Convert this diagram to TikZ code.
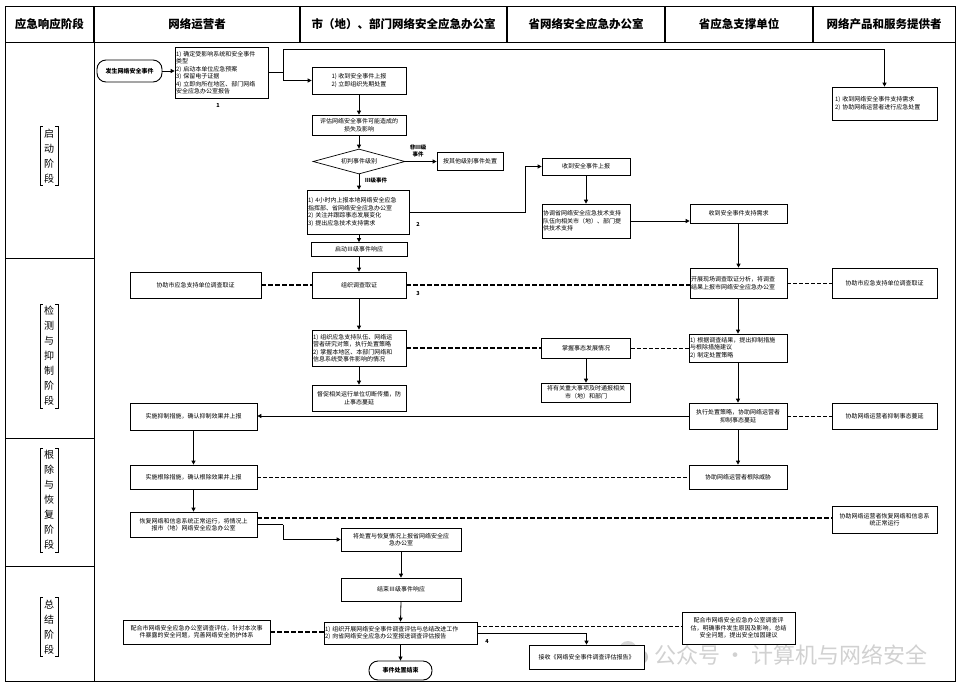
\documentclass[tikz,border=0pt]{standalone}
\usepackage{fontspec}
\setmainfont{Noto Sans CJK SC}
\usetikzlibrary{arrows.meta,shapes.geometric,calc}
\begin{document}
\begin{tikzpicture}[x=1pt,y=-1pt,
 box/.style={draw, line width=0.7pt, inner sep=1pt, font=\fontsize{6}{7.5}\selectfont, align=center},
 lbox/.style={box, align=left},
 stad/.style={draw, line width=0.9pt, rounded corners=9pt, inner sep=1pt, font=\fontsize{6}{7}\selectfont\bfseries},
 dia/.style={draw, line width=0.7pt, diamond, aspect=3.68, inner sep=0pt, font=\fontsize{6}{7}\selectfont},
 arr/.style={line width=0.8pt, -{Triangle[length=4pt,width=4pt]}},
 ln/.style={line width=0.8pt},
 tdash/.style={line width=1.3pt, dash pattern=on 5pt off 2pt},
 ndash/.style={line width=0.6pt, dash pattern=on 4pt off 2pt},
 hdr/.style={font=\fontsize{11.5}{13}\selectfont\bfseries},
 ph/.style={font=\fontsize{10}{15}\selectfont, align=center, inner xsep=4pt, inner ysep=2pt},
 lab/.style={font=\fontsize{5.5}{6.5}\selectfont\bfseries, inner sep=0.5pt, align=center},
]
\useasboundingbox (0,0) rectangle (962,686);
\fill[white] (0,0) rectangle (962,686);

% watermark (behind)
\begin{scope}[opacity=0.45]
\fill[gray!70] (628,650) circle (9);
\fill[gray!90] (641,657) circle (7);
\node[text=gray!80, font=\fontsize{22}{24}\selectfont] (wm) at (791,655) {公众号 · 计算机与网络安全};
\end{scope}

% frame
\draw[line width=1pt] (5,6) rectangle (955,681);
\draw[line width=1pt] (5,42) -- (955,42);
\foreach \x in {94,300,507,665,813} \draw[line width=1.2pt] (\x,6) -- (\x,42);
\draw[line width=1pt] (94,42) -- (94,681);
\foreach \y in {258,438,566} \draw[line width=1pt] (5,\y) -- (94,\y);

% headers
\node[hdr] (h1) at (49.5,24) {应急响应阶段};
\node[hdr] (h2) at (197,24) {网络运营者};
\node[hdr] (h3) at (403.5,24) {市（地）、部门网络安全应急办公室};
\node[hdr] (h4) at (586,24) {省网络安全应急办公室};
\node[hdr] (h5) at (739,24) {省应急支撑单位};
\node[hdr] (h6) at (884,24) {网络产品和服务提供者};

% phases
\node[ph] (ph1) at (49,156) {启\\动\\阶\\段};
\node[ph] (ph2) at (49,356) {检\\测\\与\\抑\\制\\阶\\段};
\node[ph] (ph3) at (49,500) {根\\除\\与\\恢\\复\\阶\\段};
\node[ph] (ph4) at (49,627) {总\\结\\阶\\段};
\foreach \n in {ph1,ph2,ph3,ph4}{
  \draw[line width=0.6pt] ([xshift=3pt]\n.north west) -- (\n.north west) -- (\n.south west) -- ([xshift=3pt]\n.south west);
  \draw[line width=0.6pt] ([xshift=-3pt]\n.north east) -- (\n.north east) -- (\n.south east) -- ([xshift=-3pt]\n.south east);
}

% start phase
\node[stad, minimum width=65pt, minimum height=22pt] (start) at (129.5,71) {发生网络安全事件};
\node[lbox, text width=91pt, minimum height=51pt] (b1) at (221.5,72.5) {1) 确定受影响系统和安全事件\\类型\\2) 启动本单位应急预案\\3) 保留电子证据\\4) 立即向所在地区、部门网络\\安全应急办公室报告};
\node[lab] (l1) at (218,105) {1};
\node[box, minimum width=94pt, minimum height=27pt] (c1) at (359,80.5) {1) 收到安全事件上报\\2) 立即组织先期处置};
\node[box, minimum width=94pt, minimum height=20pt] (c2) at (359,125) {评估网络安全事件可能造成的\\损失及影响};
\node[dia, minimum width=92pt, minimum height=25pt] (d1) at (359,161.5) {初判事件级别};
\node[box, minimum width=66pt, minimum height=18pt] (r1) at (470,161) {按其他级别事件处置};
\node[lab] (l2a) at (418,151) {非Ⅲ级\\事件};
\node[lab] (l2b) at (376,180) {Ⅲ级事件};
\node[lbox, text width=100pt, minimum height=44pt] (b2) at (358,212) {1) 4小时内上报本地网络安全应急\\指挥部、省网络安全应急办公室\\2) 关注并跟踪事态发展变化\\3) 提出应急技术支持需求};
\node[lab] (l2) at (418,224) {2};
\node[box, minimum width=96pt, minimum height=14pt] (c3) at (359,249.5) {启动Ⅲ级事件响应};
\node[box, minimum width=88pt, minimum height=17pt] (p1) at (586,166.5) {收到安全事件上报};
\node[lbox, text width=86pt, minimum height=34pt] (p2) at (586,221) {协调省网络安全应急技术支持\\队伍向相关市（地）、部门提\\供技术支持};
\node[box, minimum width=97pt, minimum height=19pt] (s1) at (738.5,213.5) {收到安全事件支持需求};
\node[lbox, text width=99pt, minimum height=33pt, inner xsep=3pt] (pr1) at (884.5,103.5) {1) 收到网络安全事件支持需求\\2) 协助网络运营者进行应急处置};

% detection phase
\node[box, minimum width=131pt, minimum height=26pt] (o1) at (195.5,285) {协助市应急支持单位调查取证};
\node[box, minimum width=94pt, minimum height=26pt] (c4) at (359,285) {组织调查取证};
\node[lab] (l3) at (418,293) {3};
\node[lbox, text width=95pt, minimum height=30pt] (s2) at (738.5,283) {开展现场调查取证分析，将调查\\结果上报市网络安全应急办公室};
\node[box, minimum width=105pt, minimum height=30pt] (pr2) at (884.5,283) {协助市应急支持单位调查取证};
\node[lbox, text width=92pt, minimum height=36pt] (c5) at (359,348) {1) 组织应急支持队伍、网络运\\营者研究对策，执行处置策略\\2) 掌握本地区、本部门网络和\\信息系统受事件影响的情况};
\node[box, minimum width=89pt, minimum height=20pt] (p3) at (586,348) {掌握事态发展情况};
\node[lbox, text width=96pt, minimum height=28pt] (s3) at (738,348) {1) 根据调查结果，提出抑制措施\\与根除措施建议\\2) 制定处置策略};
\node[box, minimum width=89pt, minimum height=19pt] (p4) at (586,392.5) {将有关重大事项及时通报相关\\市（地）和部门};
\node[box, minimum width=94pt, minimum height=26pt] (c6) at (359,398) {督促相关运行单位切断传播，防\\止事态蔓延};
\node[box, minimum width=98pt, minimum height=26pt] (s4) at (738,416) {执行处置策略，协助网络运营者\\抑制事态蔓延};
\node[box, minimum width=105pt, minimum height=26pt] (pr3) at (884.5,416) {协助网络运营者抑制事态蔓延};
\node[box, minimum width=127pt, minimum height=27pt] (o2) at (193.5,416.5) {实施抑制措施，确认抑制效果并上报};

% eradication phase
\node[box, minimum width=98pt, minimum height=24pt] (s5) at (738,477) {协助网络运营者根除威胁};
\node[box, minimum width=127pt, minimum height=24pt] (o3) at (193.5,477) {实施根除措施，确认根除效果并上报};
\node[box, minimum width=127pt, minimum height=25pt] (o4) at (193.5,524.5) {恢复网络和信息系统正常运行，将情况上\\报市（地）网络安全应急办公室};
\node[box, minimum width=105pt, minimum height=27pt] (pr4) at (884.5,519.5) {协助网络运营者恢复网络和信息系\\统正常运行};
\node[box, minimum width=120pt, minimum height=23pt] (c7) at (401,539.5) {将处置与恢复情况上报省网络安全应\\急办公室};

% summary phase
\node[box, minimum width=120pt, minimum height=23pt] (c8) at (401,589.5) {结束Ⅲ级事件响应};
\node[lbox, text width=151pt, minimum height=22pt] (c9) at (400.5,633) {1) 组织开展网络安全事件调查评估与总结改进工作\\2) 向省网络安全应急办公室报送调查评估报告};
\node[lab] (l4) at (487,641) {4};
\node[stad, minimum width=63pt, minimum height=19pt] (end) at (400.5,670.5) {事件处置结束};
\node[box, minimum width=147pt, minimum height=24pt] (o5) at (196.5,632) {配合市网络安全应急办公室调查评估，针对本次事\\件暴露的安全问题，完善网络安全防护体系};
\node[box, fill=white, minimum width=113pt, minimum height=32pt] (s6) at (738.5,628) {配合市网络安全应急办公室调查评\\估，明确事件发生原因及影响，总结\\安全问题，提出安全加固建议};
\node[box, fill=white, minimum width=115pt, minimum height=24pt] (p5) at (586.5,657) {接收《网络安全事件调查评估报告》};

% connectors
\draw[arr] (start.east) -- (start.east -| b1.west);
\coordinate (j1) at (283,72.5);
\coordinate (j2) at (283,49);
\draw[ln] (b1.east) -- (j1);
\draw[arr] (j1) |- (c1.west);
\draw[arr] (j1) -- (j2) -| (pr1.north);
\draw[arr] (c1.south) -- (c2.north);
\draw[arr] (c2.south) -- (d1.north);
\draw[arr] (d1.south) -- (d1.south |- b2.north);
\draw[arr] (d1.east) -- (d1.east -| r1.west);
\draw[arr] (c3.north |- b2.south) -- (c3.north);
\draw[arr] (c3.south) -- (c4.north);
\draw[arr] (c4.south) -- (c5.north);
\draw[arr] (c5.south) -- (c6.north);
\coordinate (j3) at (525,212);
\draw[arr] (b2.east) -- (j3) |- (p1.west);
\draw[arr] (p1.south) -- (p2.north);
\draw[arr] (p2.east) -- (p2.east -| s1.west);
\draw[arr] (s1.south) -- (s2.north);
\draw[tdash] (o1.east) -- (c4.west);
\draw[tdash] (c4.east) -- (c4.east -| s2.west);
\draw[ndash] (s2.east) -- (pr2.west);
\draw[tdash] (c5.east) -- (p3.west);
\draw[ndash] (p3.east) -- (s3.west);
\draw[arr] (p3.south) -- (p4.north);
\draw[arr] (s3.north |- s2.south) -- (s3.north);
\draw[arr] (s3.south) -- (s4.north);
\draw[arr] (s4.west) -- (s4.west -| o2.east);
\draw[ndash] (s4.east) -- (pr3.west);
\draw[arr] (s4.south) -- (s5.north);
\draw[arr] (o2.south) -- (o3.north);
\draw[ndash] (o3.east) -- (s5.west);
\draw[arr] (o3.south) -- (o4.north);
\coordinate (t1) at ([yshift=6.5pt]o4.east);
\draw[tdash] (t1) -- (t1 -| pr4.west);
\coordinate (j4) at (283,524.5);
\draw[ln] (o4.east) -- (j4);
\draw[arr] (j4) |- (c7.west);
\draw[arr] (c7.south) -- (c8.north);
\draw[arr] (c8.south) -- (c9.north);
\draw[arr] (c9.south) -- (end.north);
\draw[tdash] (o5.east) -- (o5.east -| c9.west);
\coordinate (t2) at ([yshift=7pt]c9.east);
\draw[ndash] (t2) -- (t2 -| s6.west);
\coordinate (j5) at (586.5,633);
\draw[ln] (c9.east) -- (j5);
\draw[arr] (j5) -- (p5.north);
\end{tikzpicture}
\end{document}
